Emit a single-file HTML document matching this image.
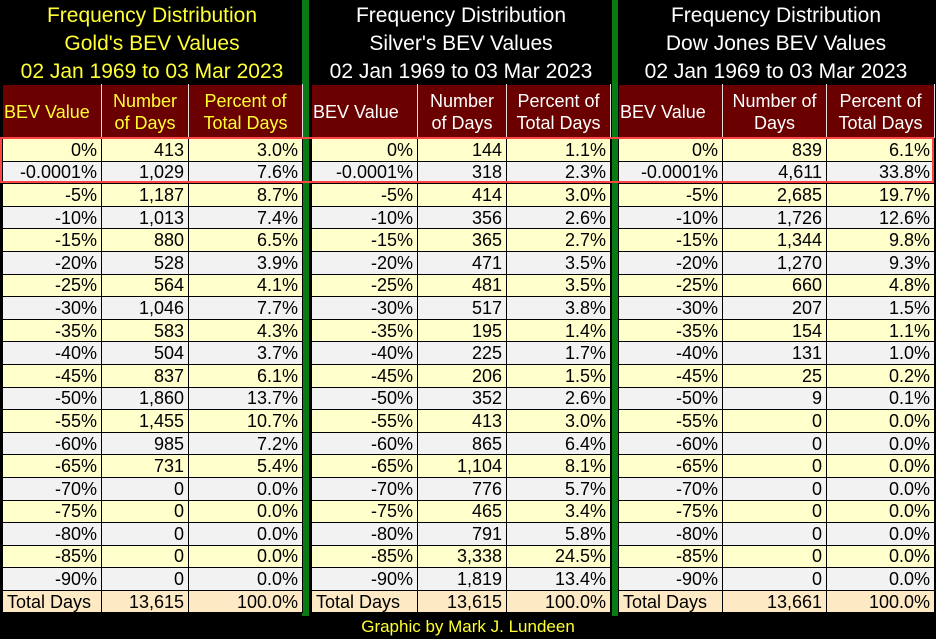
<!DOCTYPE html>
<html><head><meta charset="utf-8"><style>
body{margin:0;width:936px;height:639px;background:#000;position:relative;overflow:hidden;font-family:"Liberation Sans",Arial,sans-serif}
.title{position:absolute;top:2px;text-align:center;font-size:21px;line-height:28px;color:#fff}
.gold{color:#ffff33}
.green{position:absolute;top:0;height:616px;background:#0a7a14}
table{position:absolute;top:84px;border-collapse:collapse;table-layout:fixed;font-size:18px}
td{border:1px solid #000;padding:0 4px;height:21.6px;line-height:20px;text-align:right;overflow:hidden;white-space:nowrap;color:#000}
th{background:#6b0000;height:51px;font-weight:normal;font-size:18px;line-height:22px;border:1px solid #000;border-right:1px solid #ddd;color:#fff}
tr.y td{background:#ffffcc}tr.g td{background:#f2f2f2}tr.t td{background:#fde9c4}
tr.t td:first-child{text-align:left}
.red{position:absolute;left:0;width:930px;top:137px;height:42px;border:2px solid #f44;pointer-events:none}
.foot{position:absolute;top:616px;width:936px;text-align:center;color:#ffff33;font-size:17px;line-height:22px}
</style></head><body>
<div class="title gold" style="left:2px;width:300px">Frequency Distribution<br>Gold's BEV Values<br>02 Jan 1969 to 03 Mar 2023</div>
<div class="title" style="left:311px;width:300px">Frequency Distribution<br>Silver's BEV Values<br>02 Jan 1969 to 03 Mar 2023</div>
<div class="title" style="left:618px;width:316px">Frequency Distribution<br>Dow Jones BEV Values<br>02 Jan 1969 to 03 Mar 2023</div>
<div class="green" style="left:302px;width:7px"></div>
<div class="green" style="left:612px;width:6px"></div>
<div id="tables"></div>
<div class="red"></div>
<div class="foot">Graphic by Mark J. Lundeen</div>
<script>
const bevLabels=["0%","-0.0001%","-5%","-10%","-15%","-20%","-25%","-30%","-35%","-40%","-45%","-50%","-55%","-60%","-65%","-70%","-75%","-80%","-85%","-90%"];
const goldDays=["413","1,029","1,187","1,013","880","528","564","1,046","583","504","837","1,860","1,455","985","731","0","0","0","0","0"];
const goldPct=["3.0%","7.6%","8.7%","7.4%","6.5%","3.9%","4.1%","7.7%","4.3%","3.7%","6.1%","13.7%","10.7%","7.2%","5.4%","0.0%","0.0%","0.0%","0.0%","0.0%"];
const silverDays=["144","318","414","356","365","471","481","517","195","225","206","352","413","865","1,104","776","465","791","3,338","1,819"];
const silverPct=["1.1%","2.3%","3.0%","2.6%","2.7%","3.5%","3.5%","3.8%","1.4%","1.7%","1.5%","2.6%","3.0%","6.4%","8.1%","5.7%","3.4%","5.8%","24.5%","13.4%"];
const dowDays=["839","4,611","2,685","1,726","1,344","1,270","660","207","154","131","25","9","0","0","0","0","0","0","0","0"];
const dowPct=["6.1%","33.8%","19.7%","12.6%","9.8%","9.3%","4.8%","1.5%","1.1%","1.0%","0.2%","0.1%","0.0%","0.0%","0.0%","0.0%","0.0%","0.0%","0.0%","0.0%"];
const totals=["13,615","13,615","13,661"];
const panels=[
 {name:"gold",left:2,w:[99,87,114],days:goldDays,pct:goldPct,hc:"#ffff33",hdr:["BEV Value","Number<br>of Days","Percent of<br>Total Days"]},
 {name:"silver",left:311,w:[106,89,104],days:silverDays,pct:silverPct,hc:"#fff",hdr:["BEV Value","Number<br>of Days","Percent of<br>Total Days"]},
 {name:"dow",left:618,w:[104,104,108],days:dowDays,pct:dowPct,hc:"#fff",hdr:["BEV Value","Number of<br>Days","Percent of<br>Total Days"]}
];
const host=document.getElementById('tables');
panels.forEach((p,pi)=>{
 const t=document.createElement('table');
 
 
 t.style.left=p.left+'px';
 let h='<colgroup>'+p.w.map(w=>'<col style="width:'+w+'px">').join('')+'</colgroup>';
 h+='<tr>'+p.hdr.map((x,i)=>'<th style="color:'+p.hc+';text-align:'+(i==0?'left':'center')+'">'+x+'</th>').join('')+'</tr>';
 bevLabels.forEach((b,i)=>{
  h+='<tr class="'+(i%2?'g':'y')+'"><td>'+b+'</td><td>'+p.days[i]+'</td><td>'+p.pct[i]+'</td></tr>';
 });
 h+='<tr class="t"><td>Total Days</td><td>'+totals[pi]+'</td><td>100.0%</td></tr>';
 t.innerHTML=h;
 host.appendChild(t);
});
</script>
</body></html>
